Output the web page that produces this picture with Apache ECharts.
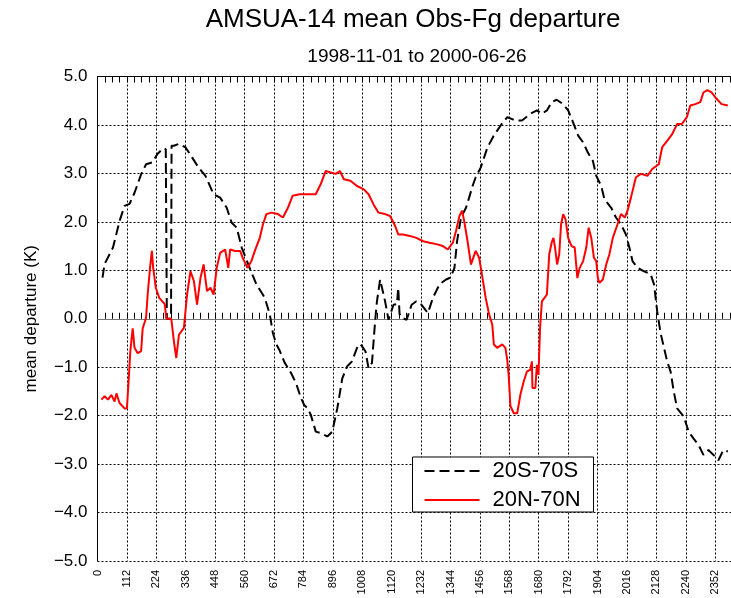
<!DOCTYPE html>
<html>
<head>
<meta charset="utf-8">
<script src="https://cdn.jsdelivr.net/npm/echarts@6/dist/echarts.min.js"></script>
<style>
html,body{margin:0;padding:0;background:#fff;}
#chart{width:731px;height:598px;}
</style>
</head>
<body>
<div id="chart"></div>
<script>
const titleText = 'AMSUA-14 mean Obs-Fg departure';
const subtitleText = '1998-11-01 to 2000-06-26';
const yAxisName = 'mean departure (K)';
const seriesNames = ['20S-70S', '20N-70N'];

const southX = [19,27,59,84,103,122,141,166,185,210,228,250,260,262,264,280,282,291,310,335,360,385,411,442,467,492,511,530,549,574,605,637,656,668,681,693,712,737,756,775,787,800,812,831,850,875,894,913,932,951,969,988,1001,1020,1032,1045,1057,1064,1076,1095,1108,1127,1140,1145,1150,1158,1177,1196,1214,1233,1258,1277,1302,1327,1344,1359,1369,1384,1403,1415,1428,1440,1459,1485,1509,1535,1560,1579,1591,1616,1648,1673,1692,1711,1729,1748,1773,1792,1811,1830,1849,1867,1886,1899,1918,1930,1956,1974,1993,2012,2025,2037,2056,2081,2106,2119,2131,2144,2163,2169,2182,2194,2207,2232,2251,2269,2288,2307,2326,2345,2364,2383,2400];
const southY = [0.85,1.13,1.47,2.02,2.33,2.37,2.6,2.98,3.19,3.23,3.4,3.52,3.5,3.5,0,0,3.57,3.57,3.61,3.54,3.33,3.12,2.95,2.57,2.5,2.29,1.98,1.88,1.47,1.12,0.71,0.43,0.09,-0.3,-0.53,-0.65,-0.9,-1.12,-1.33,-1.64,-1.78,-1.85,-1.98,-2.33,-2.36,-2.43,-2.33,-1.85,-1.23,-0.98,-0.88,-0.6,-0.52,-0.67,-1.02,-0.91,-0.05,0.36,0.81,0.36,-0.02,0.29,0.3,0.64,0.1,0.02,-0.02,0.29,0.36,0.29,0.12,0.43,0.71,0.81,0.85,1.05,1.6,2.09,2.29,2.5,2.74,2.92,3.12,3.54,3.78,3.99,4.16,4.12,4.09,4.09,4.23,4.3,4.23,4.3,4.47,4.52,4.43,4.3,4.05,3.78,3.64,3.43,3.26,2.95,2.74,2.47,2.29,2.09,1.95,1.74,1.47,1.19,1.05,0.98,0.92,0.71,0.15,-0.3,-0.74,-0.88,-1.09,-1.5,-1.85,-2.02,-2.33,-2.47,-2.6,-2.81,-2.71,-2.81,-2.92,-2.71,-2.74];

const northX = [15,27,40,53,65,72,84,103,112,119,125,134,141,153,166,172,185,191,200,207,212,222,235,247,256,262,281,291,300,310,329,341,354,367,379,392,404,417,430,442,454,467,486,498,505,524,543,555,571,586,599,618,630,643,662,687,706,725,743,769,800,831,850,869,888,907,923,938,963,988,1014,1032,1051,1070,1095,1114,1133,1145,1164,1189,1214,1240,1264,1290,1315,1334,1353,1365,1378,1388,1396,1409,1422,1431,1440,1453,1466,1478,1491,1503,1509,1522,1541,1553,1560,1566,1572,1585,1598,1610,1623,1635,1648,1654,1656,1667,1673,1679,1685,1692,1698,1711,1720,1729,1736,1742,1750,1758,1765,1773,1782,1792,1805,1817,1827,1836,1849,1861,1870,1880,1890,1899,1905,1911,1924,1937,1949,1962,1980,1993,2008,2018,2031,2050,2069,2094,2112,2137,2150,2169,2188,2207,2225,2244,2257,2276,2295,2307,2322,2338,2357,2376,2400];
const northY = [-1.67,-1.6,-1.67,-1.57,-1.71,-1.54,-1.74,-1.85,-1.85,-1.23,-0.67,-0.2,-0.6,-0.71,-0.67,-0.2,0.02,0.5,1.05,1.4,1.05,0.64,0.43,0.36,0.3,0,0,-0.47,-0.81,-0.33,-0.19,0.5,0.98,0.78,0.29,0.84,1.12,0.57,0.64,0.5,1.05,1.36,1.43,1.05,1.43,1.4,1.4,1.23,1.05,1.19,1.4,1.67,1.95,2.16,2.19,2.16,2.09,2.29,2.54,2.57,2.57,2.57,2.78,3.05,3.02,2.99,3.05,2.88,2.85,2.74,2.67,2.57,2.36,2.19,2.16,2.12,1.92,1.74,1.74,1.71,1.67,1.6,1.57,1.54,1.5,1.43,1.57,1.81,2.12,2.23,2.02,1.6,1.12,1.26,1.4,1.26,0.84,0.43,0.09,-0.12,-0.53,-0.6,-0.53,-0.6,-0.85,-1.2,-1.8,-1.95,-1.95,-1.57,-1.29,-1.09,-1.05,-0.88,-1.43,-1.43,-0.95,-1.16,-0.19,0.36,0.36,0.5,1.33,1.57,1.67,1.47,1.12,1.33,1.95,2.16,2.05,1.67,1.5,1.47,0.84,1.05,1.19,1.47,1.88,1.67,1.26,1.19,0.84,0.74,0.81,1.12,1.33,1.67,1.95,2.16,2.09,2.23,2.5,2.92,2.99,2.95,3.09,3.19,3.54,3.67,3.81,4.02,4.02,4.16,4.4,4.43,4.47,4.67,4.72,4.67,4.54,4.43,4.4];

const xMin = 0, xMax = 2412, xStep = 112;
const yMin = -5, yMax = 5, yStep = 1;

const zip = (xs, ys) => xs.map((x, i) => [x, ys[i]]);
const FONT = '"Liberation Sans", Arial, Helvetica, sans-serif';

const chart = echarts.init(document.getElementById('chart'), null, {renderer: 'canvas'});

const xBase = {
  type: 'value', min: xMin, max: xMax, interval: xStep,
  axisLine: {show: true, lineStyle: {color: '#000', width: 1}},
  axisTick: {show: true, inside: true, length: 6, lineStyle: {color: '#000'}},
  minorTick: {show: true, splitNumber: 4, length: 6, lineStyle: {color: '#000'}}
};

chart.setOption({
  animation: false,
  backgroundColor: '#fff',
  textStyle: {fontFamily: FONT},
  graphic: [
    {type: 'text', x: 413, y: 20, style: {text: titleText, font: '26px ' + FONT, fill: '#000', textAlign: 'center', textVerticalAlign: 'middle'}},
    {type: 'text', x: 417, y: 57, style: {text: subtitleText, font: '19px ' + FONT, fill: '#000', textAlign: 'center', textVerticalAlign: 'middle'}}
  ],
  grid: {left: 97.5, top: 76.5, width: 640, height: 484.5, containLabel: false},
  legend: {
    orient: 'vertical', left: 412.5, top: 457,
    data: seriesNames,
    itemWidth: 55, itemHeight: 22, itemGap: 7,
    padding: [3, 13, 1, 11],
    borderColor: '#000', borderWidth: 1, backgroundColor: '#fff',
    itemStyle: {opacity: 0, borderWidth: 0},
    textStyle: {fontSize: 22, color: '#000', fontFamily: FONT, lineHeight: 22, padding: [0, 0, 0, 8]},
    selectedMode: false
  },
  xAxis: [
    Object.assign({}, xBase, {
      position: 'bottom',
      axisLabel: {show: true, rotate: 90, fontSize: 11, color: '#000', margin: 9, showMaxLabel: false, fontFamily: FONT,
        formatter: v => String(v)},
      splitLine: {show: true, lineStyle: {color: '#000', width: 1, type: [2, 2]}}
    }),
    Object.assign({}, xBase, {
      position: 'top',
      axisLabel: {show: false},
      splitLine: {show: false}
    })
  ],
  yAxis: {
    type: 'value', min: yMin, max: yMax, interval: yStep,
    name: yAxisName, nameLocation: 'middle', nameRotate: 90, nameGap: 58,
    nameTextStyle: {fontSize: 17, color: '#000', fontFamily: FONT},
    axisLine: {show: true, lineStyle: {color: '#000', width: 1}},
    axisTick: {show: false},
    axisLabel: {fontSize: 17, color: '#000', margin: 10, fontFamily: FONT,
      formatter: v => (v < 0 ? '\u2212' : '') + Math.abs(v).toFixed(1)},
    splitLine: {show: true, lineStyle: {color: '#000', width: 1, type: [2, 2]}}
  },
  series: [
    {
      name: seriesNames[0], type: 'line', data: zip(southX, southY),
      showSymbol: false, symbol: 'none', clip: true,
      lineStyle: {color: '#000', width: 2, type: [10, 5]},
      itemStyle: {color: '#000'},
      markLine: {
        silent: true, symbol: 'none', label: {show: false},
        lineStyle: {color: '#777', width: 1, type: 'solid'},
        data: [{yAxis: 0}], z: 1
      },
      z: 3
    },
    {
      name: seriesNames[1], type: 'line', data: zip(northX, northY),
      showSymbol: false, symbol: 'none', clip: true,
      lineStyle: {color: '#ff0000', width: 2, type: 'solid'},
      itemStyle: {color: '#ff0000'},
      z: 4
    }
  ]
});
</script>
</body>
</html>
